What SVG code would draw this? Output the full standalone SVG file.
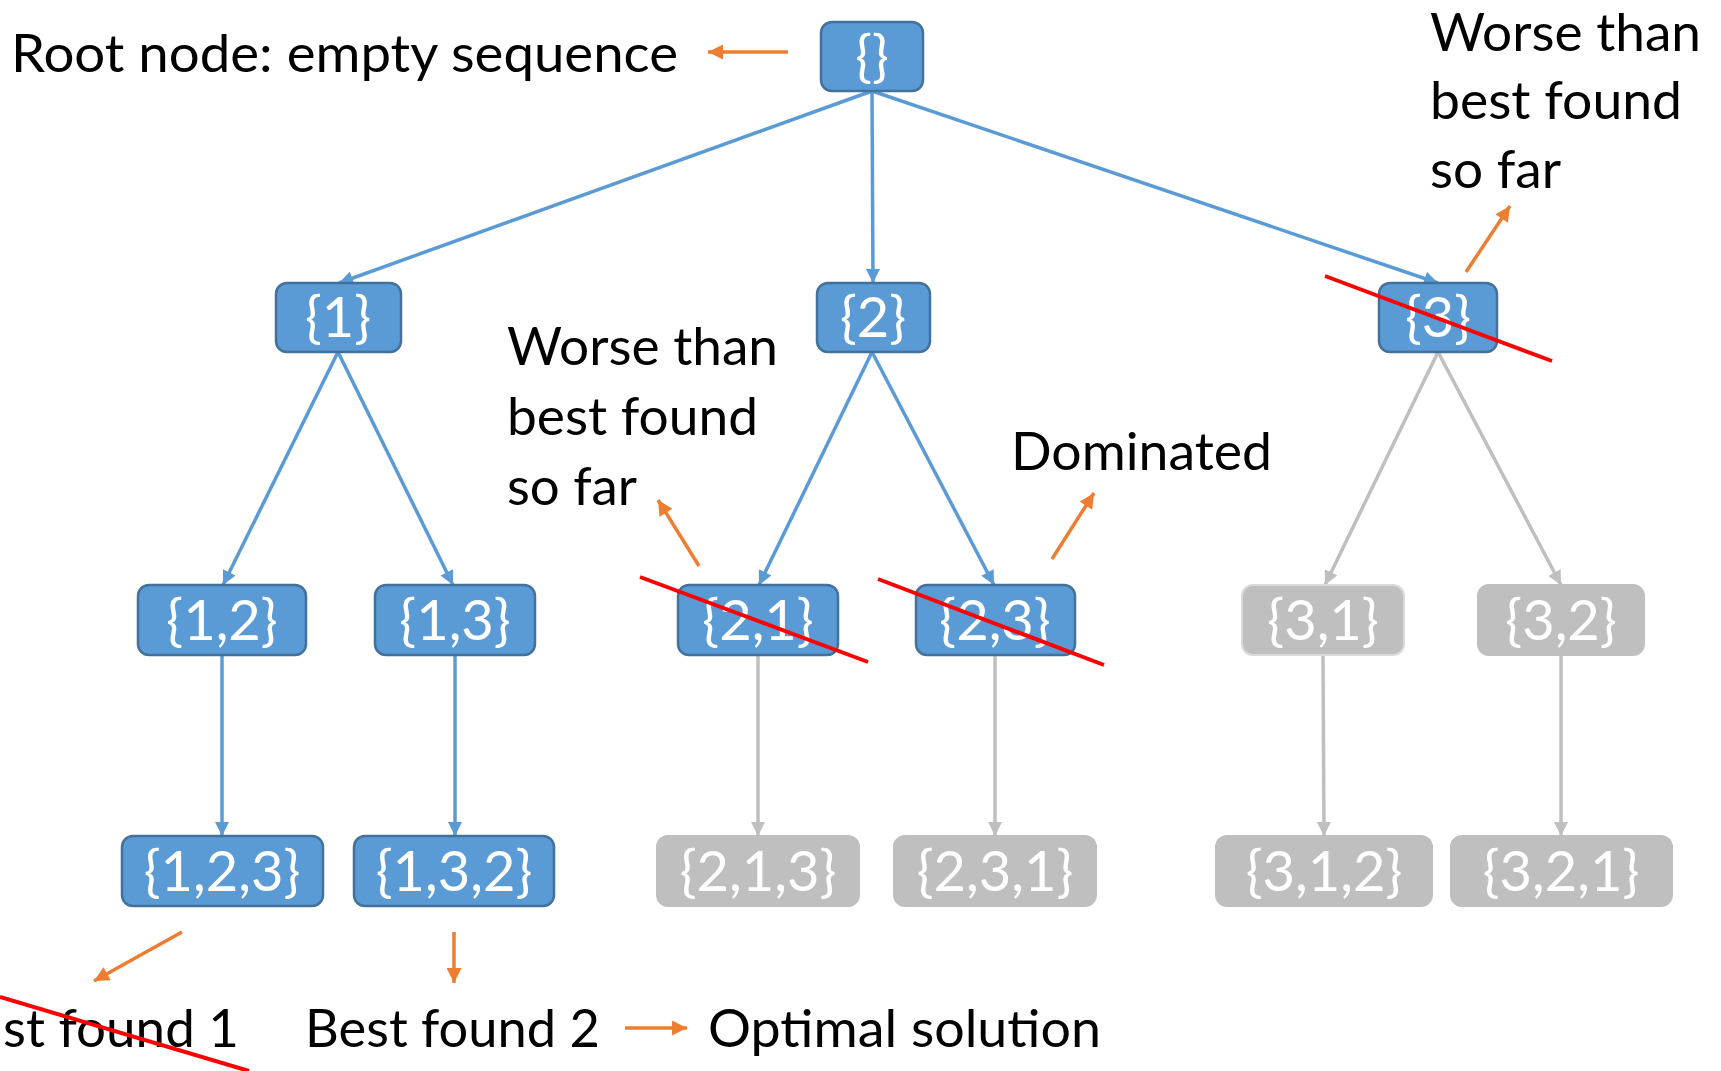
<svg xmlns="http://www.w3.org/2000/svg" width="1721" height="1071" viewBox="0 0 1721 1071">
<style>
.nb{fill:#5B9BD5;stroke:#41719C;stroke-width:2.5}
.ng{fill:#BFBFBF;stroke:#BFBFBF;stroke-width:2}
.nt{font-family:Lato,"Open Sans",sans-serif;font-size:56px;fill:#FFFFFF;text-anchor:middle}
.lb{font-family:Lato,"Open Sans",sans-serif;font-size:52px;fill:#000000}
.cb{stroke:#5B9BD5;stroke-width:3.5;fill:none}
.cg{stroke:#BFBFBF;stroke-width:3.5;fill:none}
.co{stroke:#ED7D31;stroke-width:3.5;fill:none}
.cr{stroke:#FF0000;stroke-width:4;fill:none}
</style>
<defs>
<marker id="ab" viewBox="0 0 12 12" refX="12" refY="6" markerWidth="15" markerHeight="14" markerUnits="userSpaceOnUse" orient="auto"><path d="M0,0 L12,6 L0,12 z" fill="#5B9BD5"/></marker>
<marker id="ag" viewBox="0 0 12 12" refX="12" refY="6" markerWidth="15" markerHeight="14" markerUnits="userSpaceOnUse" orient="auto"><path d="M0,0 L12,6 L0,12 z" fill="#BFBFBF"/></marker>
<marker id="ao" viewBox="0 0 12 12" refX="12" refY="6" markerWidth="16" markerHeight="15" markerUnits="userSpaceOnUse" orient="auto"><path d="M0,0 L12,6 L0,12 z" fill="#ED7D31"/></marker>
</defs>
<rect width="1721" height="1071" fill="#FFFFFF"/>

<g id="connectors">
<line class="cb" x1="872" y1="91" x2="339" y2="283" marker-end="url(#ab)"/>
<line class="cb" x1="872" y1="91" x2="873" y2="283" marker-end="url(#ab)"/>
<line class="cb" x1="872" y1="91" x2="1438" y2="283" marker-end="url(#ab)"/>
<line class="cb" x1="338" y1="352" x2="223" y2="585" marker-end="url(#ab)"/>
<line class="cb" x1="338" y1="352" x2="453" y2="585" marker-end="url(#ab)"/>
<line class="cb" x1="872" y1="352" x2="759" y2="585" marker-end="url(#ab)"/>
<line class="cb" x1="872" y1="352" x2="994" y2="585" marker-end="url(#ab)"/>
<line class="cg" x1="1438" y1="352" x2="1325" y2="585" marker-end="url(#ag)"/>
<line class="cg" x1="1438" y1="352" x2="1561" y2="585" marker-end="url(#ag)"/>
<line class="cb" x1="222" y1="655" x2="222" y2="836" marker-end="url(#ab)"/>
<line class="cb" x1="455" y1="655" x2="455" y2="836" marker-end="url(#ab)"/>
<line class="cg" x1="758" y1="655" x2="758" y2="836" marker-end="url(#ag)"/>
<line class="cg" x1="995" y1="655" x2="995" y2="836" marker-end="url(#ag)"/>
<line class="cg" x1="1323" y1="655" x2="1324" y2="836" marker-end="url(#ag)"/>
<line class="cg" x1="1561" y1="655" x2="1561" y2="836" marker-end="url(#ag)"/>
</g>

<g id="node-root"><rect class="nb" x="821" y="22" width="102" height="69" rx="11"/><text class="nt" x="872" y="76">{}</text></g>
<g id="node-1"><rect class="nb" x="276" y="283" width="125" height="69" rx="11"/><text class="nt" x="338" y="337">{1}</text></g>
<g id="node-2"><rect class="nb" x="817" y="283" width="113" height="69" rx="11"/><text class="nt" x="873" y="337">{2}</text></g>
<g id="node-3"><rect class="nb" x="1379" y="283" width="118" height="69" rx="11"/><text class="nt" x="1438" y="337">{3}</text></g>
<g id="node-12"><rect class="nb" x="138" y="585" width="168" height="70" rx="11"/><text class="nt" x="222" y="640">{1,2}</text></g>
<g id="node-13"><rect class="nb" x="375" y="585" width="160" height="70" rx="11"/><text class="nt" x="455" y="640">{1,3}</text></g>
<g id="node-21"><rect class="nb" x="678" y="585" width="160" height="70" rx="11"/><text class="nt" x="758" y="640">{2,1}</text></g>
<g id="node-23"><rect class="nb" x="916" y="585" width="159" height="70" rx="11"/><text class="nt" x="995" y="640">{2,3}</text></g>
<g id="node-31"><rect class="ng" x="1242" y="585" width="162" height="70" rx="11" style="stroke:#DADADA"/><text class="nt" x="1323" y="640">{3,1}</text></g>
<g id="node-32"><rect class="ng" x="1478" y="585" width="166" height="70" rx="11"/><text class="nt" x="1561" y="640">{3,2}</text></g>
<g id="node-123"><rect class="nb" x="122" y="836" width="201" height="70" rx="11"/><text class="nt" x="222" y="891">{1,2,3}</text></g>
<g id="node-132"><rect class="nb" x="354" y="836" width="200" height="70" rx="11"/><text class="nt" x="454" y="891">{1,3,2}</text></g>
<g id="node-213"><rect class="ng" x="657" y="836" width="202" height="70" rx="11"/><text class="nt" x="758" y="891">{2,1,3}</text></g>
<g id="node-231"><rect class="ng" x="894" y="836" width="202" height="70" rx="11"/><text class="nt" x="995" y="891">{2,3,1}</text></g>
<g id="node-312"><rect class="ng" x="1216" y="836" width="216" height="70" rx="11"/><text class="nt" x="1324" y="891">{3,1,2}</text></g>
<g id="node-321"><rect class="ng" x="1451" y="836" width="221" height="70" rx="11"/><text class="nt" x="1561" y="891">{3,2,1}</text></g>

<g id="annotations">
<line class="co" x1="788" y1="52" x2="708" y2="52" marker-end="url(#ao)"/>
<line class="co" x1="1466" y1="272" x2="1510" y2="206" marker-end="url(#ao)"/>
<line class="co" x1="699" y1="566" x2="658" y2="500" marker-end="url(#ao)"/>
<line class="co" x1="1052" y1="559" x2="1094" y2="493" marker-end="url(#ao)"/>
<line class="co" x1="182" y1="932" x2="94" y2="981" marker-end="url(#ao)"/>
<line class="co" x1="454" y1="932" x2="454" y2="983" marker-end="url(#ao)"/>
<line class="co" x1="625" y1="1028" x2="687" y2="1028" marker-end="url(#ao)"/>

<text class="lb" x="11" y="72" textLength="667" lengthAdjust="spacingAndGlyphs">Root node: empty sequence</text>
<text class="lb" x="1430" y="51" textLength="271" lengthAdjust="spacingAndGlyphs">Worse than</text>
<text class="lb" x="1430" y="119" textLength="252" lengthAdjust="spacingAndGlyphs">best found</text>
<text class="lb" x="1430" y="188" textLength="131" lengthAdjust="spacingAndGlyphs">so far</text>
<text class="lb" x="507" y="365" textLength="271" lengthAdjust="spacingAndGlyphs">Worse than</text>
<text class="lb" x="507" y="435" textLength="251" lengthAdjust="spacingAndGlyphs">best found</text>
<text class="lb" x="507" y="505" textLength="130" lengthAdjust="spacingAndGlyphs">so far</text>
<text class="lb" x="1011" y="470" textLength="261" lengthAdjust="spacingAndGlyphs">Dominated</text>
<text class="lb" x="3" y="1047" textLength="236" lengthAdjust="spacingAndGlyphs">st found 1</text>
<text class="lb" x="305" y="1047" textLength="295" lengthAdjust="spacingAndGlyphs">Best found 2</text>
<text class="lb" x="708" y="1047" textLength="393" lengthAdjust="spacingAndGlyphs">Optimal solution</text>

<line class="cr" x1="1325" y1="276" x2="1552" y2="361"/>
<line class="cr" x1="640" y1="577" x2="868" y2="662"/>
<line class="cr" x1="878" y1="579" x2="1104" y2="665"/>
<line class="cr" x1="0" y1="997" x2="249" y2="1071"/>
</g>
</svg>
